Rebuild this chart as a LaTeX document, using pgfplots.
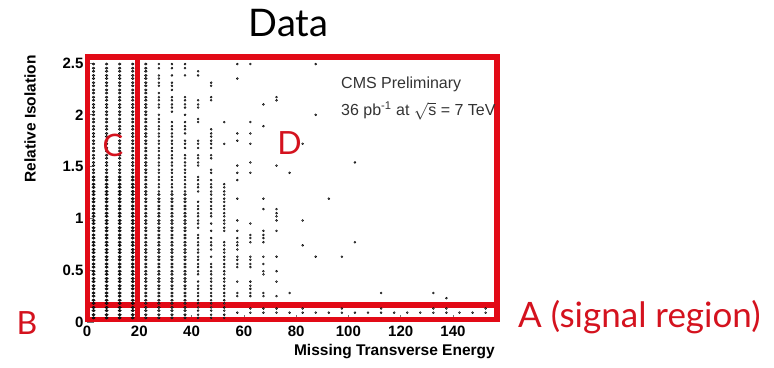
\documentclass[border=0pt]{standalone}
\usepackage{pgfplots}
\pgfplotsset{compat=1.18}
\usepackage{fontspec}
\setmainfont{Liberation Sans}
\newfontfamily\gill{Lato}
\definecolor{boxred}{RGB}{226,10,22}
\definecolor{labred}{RGB}{212,18,30}
\begin{document}
\begin{tikzpicture}[x=1pt,y=1pt]
\useasboundingbox (0,0) rectangle (774,367);
\begin{axis}[
  at={(87pt,45pt)}, anchor=south west,
  scale only axis, width=410.4pt, height=266.25pt,
  xmin=0, xmax=157, ymin=0, ymax=2.57,
  clip=false,
  axis line style={draw=none},
  xtick={0,20,40,60,80,100,120,140},
  ytick={0,0.5,1,1.5,2,2.5},
  tick align=inside, major tick length=7pt,
  tick style={black!55, line width=0.6pt},
  xtick pos=bottom, ytick pos=left,
  /pgf/number format/assume math mode=true,
  tick label style={font=\fontsize{15}{15}\selectfont\bfseries},
]
% heavy dots
\addplot[only marks, mark=*, mark size=1.3pt, mark options={draw=none, fill=black!90, xscale=1.3}] coordinates {
(2.5,.04)(2.5,.07)(2.5,.11)(2.5,.14)(2.5,.18)(2.5,.21)(2.5,.25)(2.5,.28)(2.5,.32)(2.5,.35)(2.5,.39)(2.5,.42)(2.5,.46)(2.5,.49)(2.5,.53)(2.5,.56)(2.5,.60)(2.5,.63)(2.5,.67)(2.5,.70)(2.5,.74)(2.5,.77)(2.5,.81)(2.5,.84)(2.5,.88)(2.5,.91)(2.5,.95)(2.5,.98)(2.5,1.02)(2.5,1.05)(2.5,1.09)(2.5,1.12)(2.5,1.16)(2.5,1.19)(2.5,1.23)(2.5,1.26)(2.5,1.30)(2.5,1.33)(2.5,1.37)(2.5,1.40)
(7.5,.04)(7.5,.07)(7.5,.11)(7.5,.14)(7.5,.18)(7.5,.21)(7.5,.25)(7.5,.28)(7.5,.32)(7.5,.35)(7.5,.39)(7.5,.42)(7.5,.46)(7.5,.49)(7.5,.53)(7.5,.56)(7.5,.60)(7.5,.63)(7.5,.67)(7.5,.70)(7.5,.74)(7.5,.77)(7.5,.81)(7.5,.84)(7.5,.88)(7.5,.91)(7.5,.95)(7.5,.98)(7.5,1.02)(7.5,1.05)(7.5,1.09)(7.5,1.12)(7.5,1.16)(7.5,1.19)(7.5,1.23)(7.5,1.26)(7.5,1.30)(7.5,1.33)(7.5,1.37)(7.5,1.40)
(12.5,.04)(12.5,.07)(12.5,.11)(12.5,.14)(12.5,.18)(12.5,.21)(12.5,.25)(12.5,.28)(12.5,.32)(12.5,.35)(12.5,.39)(12.5,.42)(12.5,.46)(12.5,.49)(12.5,.53)(12.5,.56)(12.5,.60)(12.5,.63)(12.5,.67)(12.5,.70)(12.5,.74)(12.5,.77)(12.5,.81)(12.5,.84)(12.5,.88)(12.5,.91)(12.5,.95)(12.5,.98)(12.5,1.02)(12.5,1.05)(12.5,1.09)(12.5,1.12)(12.5,1.16)(12.5,1.19)(12.5,1.23)(12.5,1.26)(12.5,1.30)(12.5,1.33)(12.5,1.37)(12.5,1.40)
(17.5,.04)(17.5,.07)(17.5,.11)(17.5,.14)(17.5,.18)(17.5,.21)(17.5,.25)(17.5,.28)(17.5,.32)(17.5,.35)(17.5,.39)(17.5,.42)(17.5,.46)(17.5,.49)(17.5,.53)(17.5,.56)(17.5,.60)(17.5,.63)(17.5,.67)(17.5,.70)(17.5,.74)(17.5,.77)(17.5,.81)(17.5,.84)(17.5,.88)(17.5,.91)(17.5,.95)(17.5,.98)(17.5,1.02)(17.5,1.05)(17.5,1.09)(17.5,1.12)(17.5,1.16)(17.5,1.19)(17.5,1.23)(17.5,1.26)(17.5,1.30)(17.5,1.33)(17.5,1.37)(17.5,1.40)
};
% medium dots
\addplot[only marks, mark=*, mark size=1.15pt, mark options={draw=none, fill=black!72, xscale=1.2}] coordinates {
(2.5,1.44)(2.5,1.47)(2.5,1.51)(2.5,1.54)(2.5,1.58)(2.5,1.61)(2.5,1.65)(2.5,1.68)(2.5,1.72)(2.5,1.75)(2.5,1.79)(2.5,1.82)(2.5,1.86)(2.5,1.89)(2.5,1.93)(2.5,1.96)(2.5,2.00)(2.5,2.03)(2.5,2.07)(2.5,2.10)(2.5,2.14)(2.5,2.17)(2.5,2.21)(2.5,2.24)(2.5,2.28)(2.5,2.31)(2.5,2.35)(2.5,2.38)(2.5,2.42)(2.5,2.45)(2.5,2.49)
(7.5,1.44)(7.5,1.47)(7.5,1.51)(7.5,1.54)(7.5,1.58)(7.5,1.61)(7.5,1.65)(7.5,1.68)(7.5,1.72)(7.5,1.75)(7.5,1.79)(7.5,1.82)(7.5,1.86)(7.5,1.89)(7.5,1.93)(7.5,1.96)(7.5,2.00)(7.5,2.03)(7.5,2.07)(7.5,2.10)(7.5,2.14)(7.5,2.17)(7.5,2.21)(7.5,2.24)(7.5,2.28)(7.5,2.31)(7.5,2.35)(7.5,2.38)(7.5,2.42)(7.5,2.45)(7.5,2.49)
(12.5,1.44)(12.5,1.47)(12.5,1.51)(12.5,1.54)(12.5,1.58)(12.5,1.61)(12.5,1.65)(12.5,1.68)(12.5,1.72)(12.5,1.75)(12.5,1.79)(12.5,1.82)(12.5,1.86)(12.5,1.89)(12.5,1.93)(12.5,1.96)(12.5,2.00)(12.5,2.03)(12.5,2.07)(12.5,2.10)(12.5,2.14)(12.5,2.17)(12.5,2.21)(12.5,2.24)(12.5,2.28)(12.5,2.31)(12.5,2.35)(12.5,2.38)(12.5,2.42)(12.5,2.45)(12.5,2.49)
(17.5,1.44)(17.5,1.47)(17.5,1.51)(17.5,1.54)(17.5,1.58)(17.5,1.61)(17.5,1.65)(17.5,1.68)(17.5,1.72)(17.5,1.75)(17.5,1.79)(17.5,1.82)(17.5,1.86)(17.5,1.89)(17.5,1.93)(17.5,1.96)(17.5,2.00)(17.5,2.03)(17.5,2.07)(17.5,2.10)(17.5,2.14)(17.5,2.17)(17.5,2.21)(17.5,2.24)(17.5,2.28)(17.5,2.31)(17.5,2.35)(17.5,2.38)(17.5,2.42)(17.5,2.45)(17.5,2.49)
(22.5,.04)(22.5,.07)(22.5,.11)(22.5,.14)(22.5,.18)(22.5,.21)(22.5,.25)(22.5,.28)(22.5,.32)(22.5,.35)(22.5,.39)(22.5,.42)(22.5,.46)(22.5,.49)(22.5,.53)(22.5,.56)(22.5,.60)(22.5,.63)(22.5,.67)(22.5,.70)(22.5,.74)(22.5,.77)(22.5,.81)(22.5,.84)(22.5,.88)(22.5,.91)(22.5,.95)(22.5,.98)(22.5,1.02)(22.5,1.05)(22.5,1.09)(22.5,1.12)(22.5,1.16)(22.5,1.19)(22.5,1.23)(22.5,1.26)(22.5,1.30)(22.5,1.33)(22.5,1.37)(22.5,1.40)
(22.5,1.44)(22.5,1.47)(22.5,1.51)(22.5,1.54)(22.5,1.58)(22.5,1.61)(22.5,1.65)(22.5,1.68)(22.5,1.72)(22.5,1.75)(22.5,1.79)(22.5,1.82)(22.5,1.86)(22.5,1.89)(22.5,1.93)(22.5,1.96)(22.5,2.00)(22.5,2.03)(22.5,2.07)(22.5,2.10)(22.5,2.14)(22.5,2.17)(22.5,2.21)(22.5,2.24)(22.5,2.28)(22.5,2.31)(22.5,2.35)(22.5,2.38)(22.5,2.42)(22.5,2.45)(22.5,2.49)
(27.5,.04)(27.5,.07)(27.5,.11)(27.5,.14)(27.5,.18)(27.5,.21)(27.5,.25)(27.5,.28)(27.5,.32)(27.5,.35)(27.5,.39)(27.5,.42)(27.5,.46)(27.5,.49)(27.5,.53)(27.5,.56)(27.5,.60)(27.5,.63)(27.5,.67)(27.5,.70)(27.5,.74)(27.5,.77)(27.5,.81)(27.5,.84)(27.5,.88)(27.5,.91)(27.5,.95)(27.5,.98)(27.5,1.02)(27.5,1.05)(27.5,1.09)(27.5,1.12)(27.5,1.16)(27.5,1.19)(27.5,1.23)
(32.5,.04)(32.5,.07)(32.5,.11)(32.5,.14)(32.5,.18)(32.5,.21)(32.5,.25)(32.5,.28)(32.5,.32)(32.5,.35)(32.5,.39)(32.5,.42)(32.5,.46)(32.5,.49)(32.5,.53)(32.5,.56)(32.5,.60)(32.5,.63)(32.5,.67)(32.5,.70)(32.5,.74)(32.5,.77)(32.5,.81)(32.5,.84)(32.5,.88)(32.5,.91)(32.5,.95)(32.5,.98)(32.5,1.02)(32.5,1.05)(32.5,1.09)(32.5,1.12)(32.5,1.16)(32.5,1.19)(32.5,1.23)
(37.5,.04)(37.5,.07)(37.5,.11)(37.5,.14)(37.5,.18)(37.5,.21)(37.5,.25)(37.5,.28)(37.5,.32)(37.5,.35)(37.5,.39)(37.5,.42)(37.5,.46)(37.5,.49)(37.5,.53)(37.5,.56)(37.5,.60)(37.5,.63)(37.5,.67)(37.5,.70)(37.5,.74)(37.5,.77)(37.5,.81)(37.5,.84)(37.5,.88)(37.5,.91)(37.5,.95)(37.5,.98)(37.5,1.02)(37.5,1.05)(37.5,1.09)(37.5,1.12)(37.5,1.16)(37.5,1.19)(37.5,1.23)
};
% light dots
\addplot[only marks, mark=*, mark size=1.0pt, mark options={draw=none, fill=black!52}] coordinates {
(27.5,1.26)(27.5,1.30)(27.5,1.33)(27.5,1.37)(27.5,1.40)(27.5,1.44)(27.5,1.47)(27.5,1.51)(27.5,1.54)(27.5,1.58)(27.5,1.61)(27.5,1.65)(27.5,1.68)(27.5,1.72)(27.5,1.75)(27.5,1.79)(27.5,1.82)(27.5,1.86)(27.5,1.89)(27.5,1.93)(27.5,1.96)(27.5,2.00)(27.5,2.07)(27.5,2.10)(27.5,2.14)(27.5,2.17)(27.5,2.21)(27.5,2.28)(27.5,2.31)(27.5,2.35)(27.5,2.38)(27.5,2.45)(27.5,2.49)
(32.5,1.26)(32.5,1.30)(32.5,1.33)(32.5,1.37)(32.5,1.40)(32.5,1.44)(32.5,1.47)(32.5,1.51)(32.5,1.54)(32.5,1.58)(32.5,1.61)(32.5,1.65)(32.5,1.68)(32.5,1.72)(32.5,1.75)(32.5,1.79)(32.5,1.82)(32.5,1.86)(32.5,1.89)(32.5,1.93)(32.5,2.03)(32.5,2.07)(32.5,2.10)(32.5,2.14)(32.5,2.17)(32.5,2.24)(32.5,2.28)(32.5,2.31)(32.5,2.38)(32.5,2.45)(32.5,2.49)
(37.5,1.26)(37.5,1.30)(37.5,1.33)(37.5,1.37)(37.5,1.40)(37.5,1.44)(37.5,1.47)(37.5,1.51)(37.5,1.54)(37.5,1.58)(37.5,1.61)(37.5,1.68)(37.5,1.72)(37.5,1.75)(37.5,1.82)(37.5,1.86)(37.5,1.89)(37.5,1.93)(37.5,2.00)(37.5,2.07)(37.5,2.10)(37.5,2.14)(37.5,2.17)(37.5,2.38)(37.5,2.45)(37.5,2.49)
(42.5,.04)(42.5,.07)(42.5,.11)(42.5,.14)(42.5,.18)(42.5,.21)(42.5,.25)(42.5,.28)(42.5,.32)(42.5,.35)(42.5,.39)(42.5,.46)(42.5,.49)(42.5,.53)(42.5,.56)(42.5,.60)(42.5,.63)(42.5,.67)(42.5,.70)(42.5,.74)(42.5,.77)(42.5,.81)(42.5,.84)(42.5,.91)(42.5,.95)(42.5,.98)(42.5,1.02)(42.5,1.05)(42.5,1.09)(42.5,1.12)(42.5,1.16)(42.5,1.26)(42.5,1.30)(42.5,1.33)(42.5,1.37)(42.5,1.40)(42.5,1.51)(42.5,1.54)(42.5,1.58)(42.5,1.61)(42.5,1.68)(42.5,1.72)(42.5,1.75)(42.5,1.93)(42.5,1.96)(42.5,2.07)(42.5,2.10)(42.5,2.14)(42.5,2.38)(42.5,2.42)
(47.5,.04)(47.5,.07)(47.5,.11)(47.5,.14)(47.5,.18)(47.5,.21)(47.5,.25)(47.5,.28)(47.5,.32)(47.5,.35)(47.5,.39)(47.5,.42)(47.5,.46)(47.5,.49)(47.5,.53)(47.5,.56)(47.5,.63)(47.5,.70)(47.5,.74)(47.5,.77)(47.5,.81)(47.5,.88)(47.5,.95)(47.5,1.02)(47.5,1.05)(47.5,1.09)(47.5,1.12)(47.5,1.16)(47.5,1.19)(47.5,1.23)(47.5,1.26)(47.5,1.30)(47.5,1.33)(47.5,1.37)(47.5,1.44)(47.5,1.47)(47.5,1.58)(47.5,1.61)(47.5,1.68)(47.5,1.72)(47.5,1.75)(47.5,1.79)(47.5,1.82)(47.5,1.86)(47.5,2.14)(47.5,2.17)(47.5,2.28)(47.5,2.31)
(52.5,.04)(52.5,.07)(52.5,.11)(52.5,.14)(52.5,.18)(52.5,.21)(52.5,.25)(52.5,.28)(52.5,.32)(52.5,.35)(52.5,.39)(52.5,.42)(52.5,.46)(52.5,.49)(52.5,.53)(52.5,.56)(52.5,.60)(52.5,.63)(52.5,.67)(52.5,.70)(52.5,.74)(52.5,.77)(52.5,.88)(52.5,.91)(52.5,.95)(52.5,.98)(52.5,1.02)(52.5,1.05)(52.5,1.09)(52.5,1.12)(52.5,1.16)(52.5,1.19)(52.5,1.23)(52.5,1.26)(52.5,1.30)(52.5,1.33)(52.5,1.72)(52.5,1.93)
(57.5,.09)(57.5,.25)(57.5,.28)(57.5,.39)(57.5,.53)(57.5,.56)(57.5,.60)(57.5,.63)(57.5,.70)(57.5,.74)(57.5,.77)(57.5,.81)(57.5,.88)(57.5,.98)(57.5,1.19)(57.5,1.37)(57.5,1.44)(57.5,1.51)(57.5,1.75)(57.5,1.82)(57.5,2.35)(57.5,2.49)
(62.5,.09)(62.5,.13)(62.5,.25)(62.5,.28)(62.5,.32)(62.5,.35)(62.5,.39)(62.5,.53)(62.5,.56)(62.5,.60)(62.5,.63)(62.5,.77)(62.5,.81)(62.5,.84)(62.5,.95)(62.5,1.44)(62.5,1.54)(62.5,1.72)(62.5,1.82)(62.5,1.93)(62.5,2.49)
(67.5,.09)(67.5,.13)(67.5,.25)(67.5,.28)(67.5,.46)(67.5,.49)(67.5,.56)(67.5,.63)(67.5,.77)(67.5,.81)(67.5,.84)(67.5,.88)(67.5,1.09)(67.5,1.19)(67.5,1.89)(67.5,2.10)
(72.5,.09)(72.5,.13)(72.5,.25)(72.5,.39)(72.5,.49)(72.5,.63)(72.5,.88)(72.5,.98)(72.5,1.02)(72.5,1.05)(72.5,1.09)(72.5,1.51)(72.5,2.14)(72.5,2.17)
(77.5,.09)(77.5,.28)(77.5,1.44)
(82.5,.09)(82.5,.13)(82.5,.74)(82.5,.98)(82.5,1.72)
(87.5,.09)(87.5,.63)(87.5,2.00)(87.5,2.49)
(92.5,.09)(92.5,1.19)
(97.5,.09)(97.5,.13)(97.5,.63)
(102.5,.09)(102.5,.77)(102.5,1.54)
(107.5,.09)(112.5,.09)(112.5,.13)(112.5,.28)(117.5,.09)(122.5,.09)(127.5,.09)
(132.5,.09)(132.5,.13)(132.5,.28)(137.5,.09)(137.5,.13)(137.5,.23)
(142.5,.09)(147.5,.09)(152.5,.09)(152.5,.13)
};
% red region boxes
\draw[boxred, line width=5.5pt] (axis cs:0.2,0.024) rectangle (axis cs:156.8,2.56);
\draw[boxred, line width=5.5pt] (axis cs:19.3,0.024) -- (axis cs:19.3,2.56);
\draw[boxred, line width=5.5pt] (axis cs:0.2,0.165) -- (axis cs:156.8,0.165);
\end{axis}
% axis titles
\node[anchor=base east, inner sep=0pt, font=\fontsize{15.5}{15.5}\selectfont\bfseries] at (495,12) {Missing Transverse Energy};
\node[rotate=90, anchor=east, inner sep=0pt, font=\fontsize{15.5}{15.5}\selectfont\bfseries] at (30,312) {Relative Isolation};
% CMS text
\node[anchor=base west, inner sep=0pt, text=black!80, font=\fontsize{16}{16}\selectfont] at (341,278) {CMS Preliminary};
\node[anchor=base west, inner sep=0pt, text=black!80, font=\fontsize{16}{16}\selectfont] at (341,251) {36 pb\textsuperscript{-1} at \smash{$\sqrt{\mbox{s}}$} = 7 TeV};
% title and region labels
\node[anchor=base, inner sep=0pt, font=\gill\fontsize{38}{38}\selectfont] at (288.5,330) {Data};
\node[anchor=base, inner sep=0pt, text=labred, font=\gill\fontsize{31}{31}\selectfont] at (113,210) {C};
\node[anchor=base, inner sep=0pt, text=labred, font=\gill\fontsize{32}{32}\selectfont] at (289.5,212) {D};
\node[anchor=base, inner sep=0pt, text=labred, font=\gill\fontsize{32}{32}\selectfont] at (27,32) {B};
\node[anchor=base west, inner sep=0pt, text=labred, font=\gill\fontsize{35}{35}\selectfont] at (518,39) {A (signal region)};
\end{tikzpicture}
\end{document}
